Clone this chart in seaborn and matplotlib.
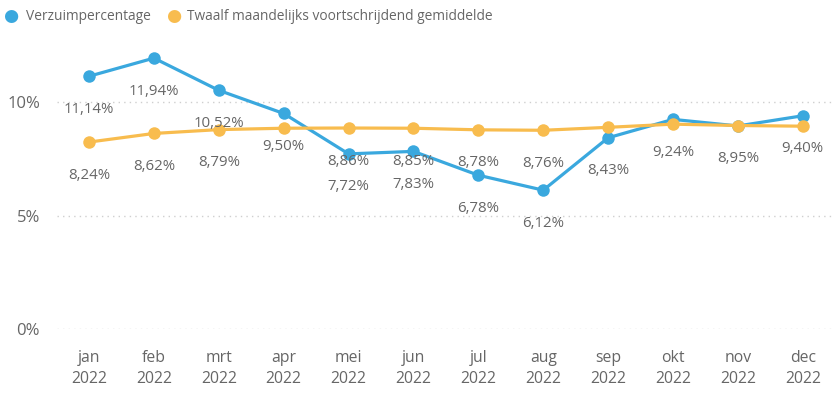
import matplotlib
matplotlib.use("Agg")
import matplotlib.pyplot as plt
import seaborn as sns
import pandas as pd

months = ["jan", "feb", "mrt", "apr", "mei", "jun", "jul", "aug", "sep", "okt", "nov", "dec"]
year = "2022"
verzuim = [11.14, 11.94, 10.52, 9.50, 7.72, 7.83, 6.78, 6.12, 8.43, 9.24, 8.95, 9.40]
gemiddelde = [8.24, 8.62, 8.79, 8.85, 8.86, 8.85, 8.78, 8.76, 8.89, 9.03, 8.97, 8.94]
# months whose moving-average label is shown
gemiddelde_labeled = [True, True, True, False, True, True, True, True, False, False, False, False]
series_names = ["Verzuimpercentage", "Twaalf maandelijks voortschrijdend gemiddelde"]
colors = ["#3AA8DE", "#F8BC4E"]

df = pd.DataFrame({
    "x": list(range(12)) * 2,
    "value": verzuim + gemiddelde,
    "serie": [series_names[0]] * 12 + [series_names[1]] * 12,
})

sns.set_theme(style="white")
plt.rcParams["font.family"] = ["Open Sans", "DejaVu Sans"]

fig = plt.figure(figsize=(8.32, 3.96), dpi=100)
ax = fig.add_axes([0.068, 0.169, 0.932, 0.745])

sns.lineplot(data=df, x="x", y="value", hue="serie",
             palette=dict(zip(series_names, colors)),
             hue_order=series_names, marker="o", markersize=9,
             markeredgewidth=0, linewidth=2.3, ax=ax, legend=False, zorder=3)

text_col = "#666666"
def fmt(v):
    return f"{v:.2f}".replace(".", ",") + "%"

for i, v in enumerate(verzuim):
    ax.annotate(fmt(v), (i, v), xytext=(0, -33), textcoords="offset pixels",
                ha="center", va="center", fontsize=10.8, color=text_col, zorder=5)
for i, (v, show) in enumerate(zip(gemiddelde, gemiddelde_labeled)):
    if show:
        ax.annotate(fmt(v), (i, v), xytext=(0, -33), textcoords="offset pixels",
                    ha="center", va="center", fontsize=10.8, color=text_col, zorder=5)

ax.set_xlim(-0.5, 11.45)
ax.set_ylim(0, 13)
ax.set_yticks([0, 5, 10])
ax.set_yticklabels(["0%", "5%", "10%"], fontsize=12, color=text_col)
ax.set_xticks(range(12))
ax.set_xticklabels([f"{m}\n{year}" for m in months], fontsize=11.3, color=text_col,
                   linespacing=1.45)
ax.tick_params(axis="both", length=0)
ax.tick_params(axis="x", pad=15)
ax.tick_params(axis="y", pad=12)
ax.set_xlabel("")
ax.set_ylabel("")
for s in ax.spines.values():
    s.set_visible(False)
ax.grid(axis="y", color="#CFCFCF", linestyle=(0, (1, 3)), linewidth=1)
ax.set_axisbelow(True)

# legend
fig.text(0.004, 0.958, "\u25CF", color=colors[0], fontsize=12.5, va="center", ha="left")
fig.text(0.031, 0.958, series_names[0], color=text_col, fontsize=9.9, va="center", ha="left")
fig.text(0.199, 0.958, "\u25CF", color=colors[1], fontsize=12.5, va="center", ha="left")
fig.text(0.225, 0.958, series_names[1], color=text_col, fontsize=9.9, va="center", ha="left")

fig.savefig("out.png", dpi=100)
